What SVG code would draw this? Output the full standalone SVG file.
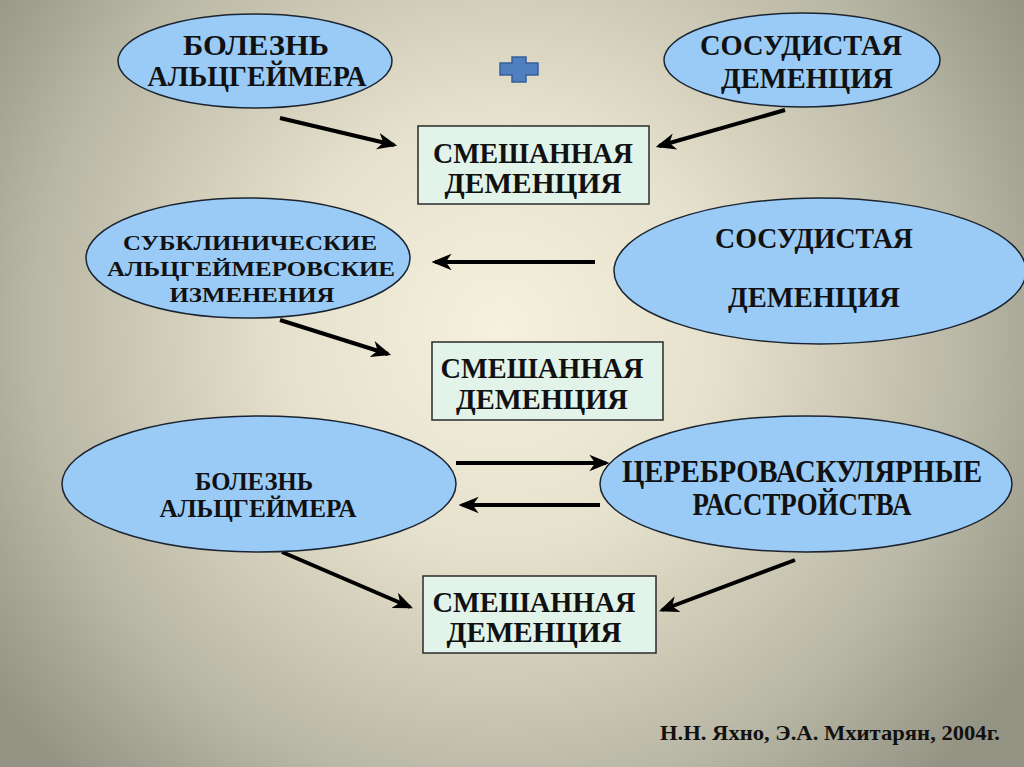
<svg xmlns="http://www.w3.org/2000/svg" width="1024" height="767" viewBox="0 0 1024 767">
<defs>
<radialGradient id="bg" cx="500" cy="330" r="620" gradientUnits="userSpaceOnUse">
<stop offset="0" stop-color="#f6f1dd"/>
<stop offset="0.35" stop-color="#e6e1cc"/>
<stop offset="0.75" stop-color="#b9b7a5"/>
<stop offset="1" stop-color="#949485"/>
</radialGradient>
<marker id="ah" viewBox="0 0 12 10" refX="10" refY="5" markerWidth="5" markerHeight="5" orient="auto" markerUnits="strokeWidth">
<path d="M0,0 L12,5 L0,10 L3.5,5 Z" fill="#000"/>
</marker>
<style>
.el{fill:#9acbf6;stroke:#1b2430;stroke-width:1.5}
.bx{fill:#e2f3ea;stroke:#2a2a2a;stroke-width:1.5}
.t{font-family:"Liberation Serif","Times New Roman",serif;font-weight:bold;fill:#111;text-anchor:middle}
.ar{stroke:#000;stroke-width:4;fill:none;marker-end:url(#ah)}
</style>
</defs>
<rect width="1024" height="767" fill="url(#bg)"/>

<g id="plus">
<path d="M512,57 H526 V63 H538 V75 H526 V82 H512 V75 H500 V63 H512 Z" fill="#4f7fbe" stroke="#35609a" stroke-width="1.5"/>
</g>

<g id="connectors">
<line class="ar" x1="280" y1="118" x2="394" y2="145"/>
<line class="ar" x1="785" y1="110" x2="659" y2="146"/>
<line class="ar" x1="595" y1="262" x2="435" y2="262"/>
<line class="ar" x1="280" y1="320" x2="388" y2="354"/>
<line class="ar" x1="456" y1="463" x2="606" y2="463" stroke-width="5"/>
<line class="ar" x1="600" y1="505" x2="462" y2="505" stroke-width="5"/>
<line class="ar" x1="282" y1="552" x2="410" y2="607"/>
<line class="ar" x1="795" y1="560" x2="662" y2="610"/>
</g>

<g id="n1">
<ellipse class="el" cx="255" cy="61" rx="137" ry="47"/>
<text class="t" x="256" y="55" font-size="30" textLength="146" lengthAdjust="spacingAndGlyphs">БОЛЕЗНЬ</text>
<text class="t" x="257" y="86" font-size="30" textLength="219" lengthAdjust="spacingAndGlyphs">АЛЬЦГЕЙМЕРА</text>
</g>

<g id="n2">
<ellipse class="el" cx="802" cy="60" rx="138" ry="47"/>
<text class="t" x="801" y="55" font-size="30" textLength="202" lengthAdjust="spacingAndGlyphs">СОСУДИСТАЯ</text>
<text class="t" x="807" y="88" font-size="30" textLength="172" lengthAdjust="spacingAndGlyphs">ДЕМЕНЦИЯ</text>
</g>

<g id="m1">
<rect class="bx" x="418" y="126" width="231" height="78"/>
<text class="t" x="533" y="163" font-size="30" textLength="200" lengthAdjust="spacingAndGlyphs">СМЕШАННАЯ</text>
<text class="t" x="533" y="193" font-size="30" textLength="177" lengthAdjust="spacingAndGlyphs">ДЕМЕНЦИЯ</text>
</g>

<g id="n3">
<ellipse class="el" cx="248" cy="258" rx="162" ry="60"/>
<text class="t" x="250" y="250" font-size="22" textLength="254" lengthAdjust="spacingAndGlyphs">СУБКЛИНИЧЕСКИЕ</text>
<text class="t" x="251" y="276" font-size="22" textLength="288" lengthAdjust="spacingAndGlyphs">АЛЬЦГЕЙМЕРОВСКИЕ</text>
<text class="t" x="252" y="302" font-size="22" textLength="165" lengthAdjust="spacingAndGlyphs">ИЗМЕНЕНИЯ</text>
</g>

<g id="n4">
<ellipse class="el" cx="820" cy="271" rx="206" ry="73"/>
<text class="t" x="814" y="248" font-size="30" textLength="198" lengthAdjust="spacingAndGlyphs">СОСУДИСТАЯ</text>
<text class="t" x="814" y="307" font-size="30" textLength="172" lengthAdjust="spacingAndGlyphs">ДЕМЕНЦИЯ</text>
</g>

<g id="m2">
<rect class="bx" x="432" y="342" width="231" height="78"/>
<text class="t" x="542" y="378" font-size="30" textLength="203" lengthAdjust="spacingAndGlyphs">СМЕШАННАЯ</text>
<text class="t" x="542" y="409" font-size="30" textLength="172" lengthAdjust="spacingAndGlyphs">ДЕМЕНЦИЯ</text>
</g>

<g id="n5">
<ellipse class="el" cx="259" cy="484" rx="197" ry="68"/>
<text class="t" x="254" y="490" font-size="26" textLength="118" lengthAdjust="spacingAndGlyphs">БОЛЕЗНЬ</text>
<text class="t" x="258" y="517" font-size="26" textLength="197" lengthAdjust="spacingAndGlyphs">АЛЬЦГЕЙМЕРА</text>
</g>

<g id="n6">
<ellipse class="el" cx="806" cy="484" rx="206" ry="68"/>
<text class="t" x="802" y="482" font-size="32" textLength="360" lengthAdjust="spacingAndGlyphs">ЦЕРЕБРОВАСКУЛЯРНЫЕ</text>
<text class="t" x="802" y="515" font-size="32" textLength="219" lengthAdjust="spacingAndGlyphs">РАССТРОЙСТВА</text>
</g>

<g id="m3">
<rect class="bx" x="423" y="576" width="233" height="77"/>
<text class="t" x="534" y="612" font-size="30" textLength="203" lengthAdjust="spacingAndGlyphs">СМЕШАННАЯ</text>
<text class="t" x="534" y="642" font-size="30" textLength="175" lengthAdjust="spacingAndGlyphs">ДЕМЕНЦИЯ</text>
</g>

<text class="t" x="830" y="740" font-size="22" textLength="340" lengthAdjust="spacingAndGlyphs">Н.Н. Яхно, Э.А. Мхитарян, 2004г.</text>
</svg>
